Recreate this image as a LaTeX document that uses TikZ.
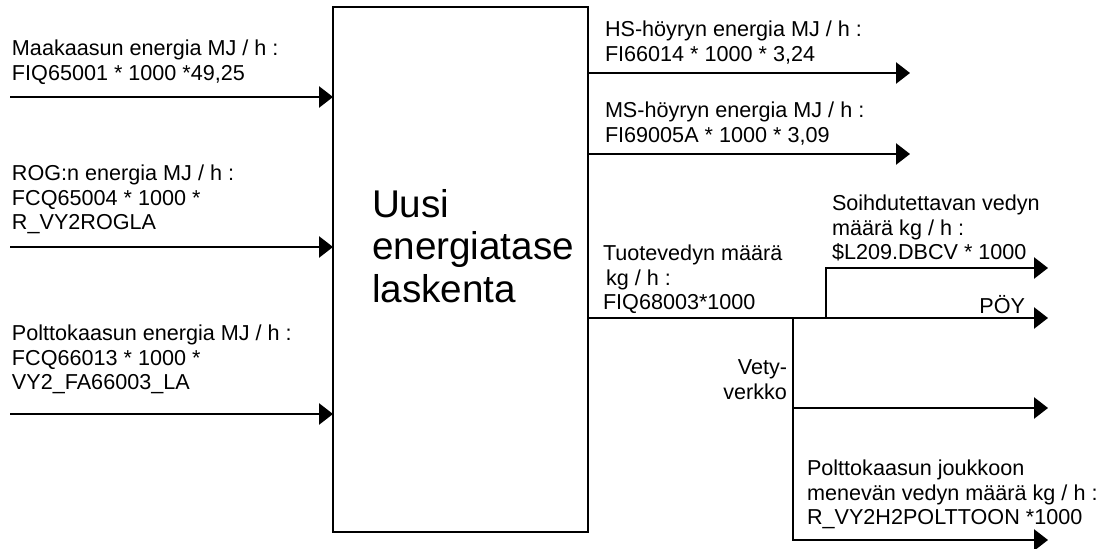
\documentclass[tikz,border=0pt]{standalone}
\usepackage{fontspec}
\setmainfont{Liberation Sans}
\usepackage{tikz}
\usetikzlibrary{arrows.meta, positioning, calc}

\begin{document}
\begin{tikzpicture}[
    x=0.75pt, y=-0.75pt,
    every node/.style={font=\fontsize{16.2}{18.4}\selectfont, inner sep=0pt, outer sep=0pt},
    tag/.style={align=left, anchor=north west},
    calcbox/.style={rectangle, draw, line width=1.1pt, minimum width=191.25pt, minimum height=393.75pt},
    flow/.style={-{Triangle[length=10.5pt, width=16pt]}, line width=1.1pt},
    pipe/.style={line width=1.1pt}
]
\useasboundingbox (0,0) rectangle (1100,549);

% Calculation block
\node[calcbox] (calc) at (460.5,269.5) {};
\node[anchor=north west, align=left, font=\fontsize{29}{32}\selectfont] (title) at (372,189) {Uusi\\energiatase\\laskenta};

% Inputs
\node[tag] (gas) at (12,40) {Maakaasun energia MJ / h :\\FIQ65001 * 1000 *49,25};
\node[tag] (rog) at (12,165) {ROG:n energia MJ / h :\\FCQ65004 * 1000 *\\R\_VY2ROGLA};
\node[tag] (fuel) at (12,325) {Polttokaasun energia MJ / h :\\FCQ66013 * 1000 *\\VY2\_FA66003\_LA};

\coordinate (gasin) at (10,97);
\coordinate (rogin) at (10,247);
\coordinate (fuelin) at (10,414);

\draw[flow] (gasin) -- (gasin -| calc.west);
\draw[flow] (rogin) -- (rogin -| calc.west);
\draw[flow] (fuelin) -- (fuelin -| calc.west);

% Steam outputs
\node[tag] (hs) at (605,21) {HS-höyryn energia MJ / h :\\FI66014 * 1000 * 3,24};
\node[tag] (ms) at (605,102) {MS-höyryn energia MJ / h :\\FI69005A * 1000 * 3,09};

\coordinate (hsout) at (910,73);
\coordinate (msout) at (910,154);

\draw[flow] (calc.east |- hsout) -- (hsout);
\draw[flow] (calc.east |- msout) -- (msout);

% Hydrogen outputs
\node[tag] (prod) at (603,245) {Tuotevedyn määrä\\\hspace{2.25pt}kg / h :\\FIQ68003*1000};
\node[tag] (flare) at (832,195) {Soihdutettavan vedyn\\määrä kg / h :\\\$L209.DBCV * 1000};
\node[anchor=north east] (poy) at (1025,295) {PÖY};
\node[anchor=north east, align=right] (net) at (787,360) {Vety-\\verkko};
\node[tag] (fuelh) at (807,460) {Polttokaasun joukkoon\\menevän vedyn määrä kg / h :\\R\_VY2H2POLTTOON *1000};

\coordinate (split) at (793,318);
\coordinate (branch) at (826,318);
\coordinate (poyout) at (1048,318);
\coordinate (flareout) at (1048,268);
\coordinate (netout) at (1048,408);
\coordinate (fuelout) at (1048,540);

\draw[pipe] (calc.east |- split) -- (split);
\draw[flow] (split) -- (poyout);
\draw[flow] (branch) |- (flareout);
\draw[flow] (split) |- (fuelout);
\draw[flow] (split |- netout) -- (netout);

\end{tikzpicture}
\end{document}
